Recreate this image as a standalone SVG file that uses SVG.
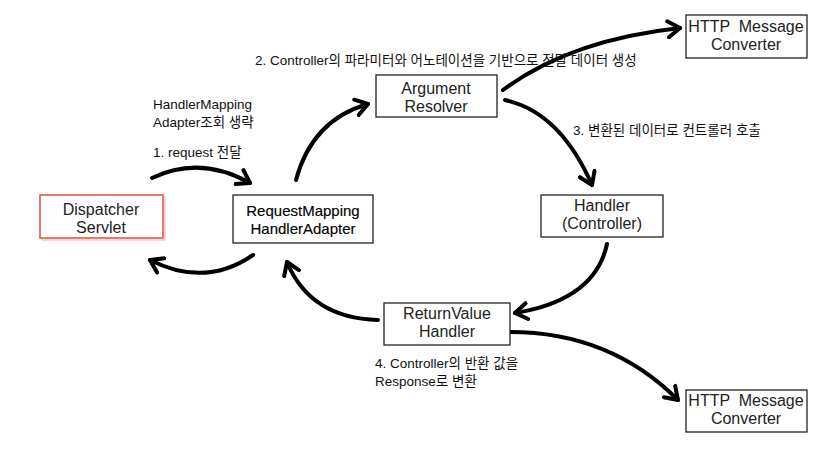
<svg xmlns="http://www.w3.org/2000/svg" width="838" height="456" viewBox="0 0 838 456">
<style>
.box{fill:#fff;stroke:#222;stroke-width:1.3}
.red{fill:#fff;stroke:#e05a48;stroke-width:1.6}
.t{font-family:"Liberation Sans","Noto Sans CJK KR",sans-serif;font-size:16px;fill:#222;text-anchor:middle}
.b{font-size:15px;fill:#000;stroke:#000;stroke-width:0.15}
.l{font-family:"Liberation Sans","Noto Sans CJK KR",sans-serif;font-size:13.5px;fill:#111}
.c{fill:none;stroke:#000;stroke-width:4;stroke-linecap:round}
</style>
<defs>
<marker id="ah" viewBox="-14 -10 18 20" refX="0" refY="0" markerWidth="18" markerHeight="20" markerUnits="userSpaceOnUse" orient="auto">
<path d="M-12,-8 L0,0 L-12,8" fill="none" stroke="#000" stroke-width="4" stroke-linecap="round" stroke-linejoin="round"/>
</marker>
</defs>
<g id="connectors">
<path class="c" d="M152,178 Q200,155 250,183" marker-end="url(#ah)"/>
<path class="c" d="M253,255 Q205,288 150,260" marker-end="url(#ah)"/>
<path class="c" d="M296,180 Q312,120 368,104" marker-end="url(#ah)"/>
<path class="c" d="M503,90 Q570,40 680,28" marker-end="url(#ah)"/>
<path class="c" d="M505,100 Q560,112 592,185" marker-end="url(#ah)"/>
<path class="c" d="M607,244 Q595,300 515,313" marker-end="url(#ah)"/>
<path class="c" d="M510,332 Q610,332 678,400" marker-end="url(#ah)"/>
<path class="c" d="M378,320 Q310,318 287,262" marker-end="url(#ah)"/>
</g>
<g id="dispatcher">
<rect x="42" y="197" width="123" height="43" fill="none" stroke="#f3c9c2" stroke-width="1.5"/>
<rect class="red" x="40" y="195" width="123" height="43"/>
<text class="t" x="101" y="215">Dispatcher</text>
<text class="t" x="101" y="233">Servlet</text>
</g>
<g id="adapter">
<rect class="box" x="233" y="195" width="140" height="48"/>
<text class="t b" x="303" y="216">RequestMapping</text>
<text class="t b" x="303" y="234">HandlerAdapter</text>
</g>
<g id="resolver">
<rect class="box" x="376" y="75" width="121" height="42"/>
<text class="t" x="436" y="94">Argument</text>
<text class="t" x="436" y="112">Resolver</text>
</g>
<g id="converter-top">
<rect class="box" x="686" y="15" width="121" height="43"/>
<text class="t" x="746" y="32" xml:space="preserve">HTTP  Message</text>
<text class="t" x="746" y="50">Converter</text>
</g>
<g id="handler">
<rect class="box" x="541" y="195" width="122" height="42"/>
<text class="t" x="602" y="211">Handler</text>
<text class="t" x="602" y="229">(Controller)</text>
</g>
<g id="returnvalue">
<rect class="box" x="384" y="303" width="126" height="42"/>
<text class="t" x="447" y="319">ReturnValue</text>
<text class="t" x="447" y="337">Handler</text>
</g>
<g id="converter-bottom">
<rect class="box" x="686" y="390" width="121" height="42"/>
<text class="t" x="746" y="406" xml:space="preserve">HTTP  Message</text>
<text class="t" x="746" y="424">Converter</text>
</g>
<g id="labels">
<text class="l" x="255" y="65">2. Controller의 파라미터와 어노테이션을 기반으로 전달 데이터 생성</text>
<text class="l" x="153" y="109">HandlerMapping</text>
<text class="l" x="153" y="127">Adapter조회 생략</text>
<text class="l" x="153" y="157">1. request 전달</text>
<text class="l" x="573" y="135">3. 변환된 데이터로 컨트롤러 호출</text>
<text class="l" x="375" y="368">4. Controller의 반환 값을</text>
<text class="l" x="375" y="386">Response로 변환</text>
</g>
</svg>
